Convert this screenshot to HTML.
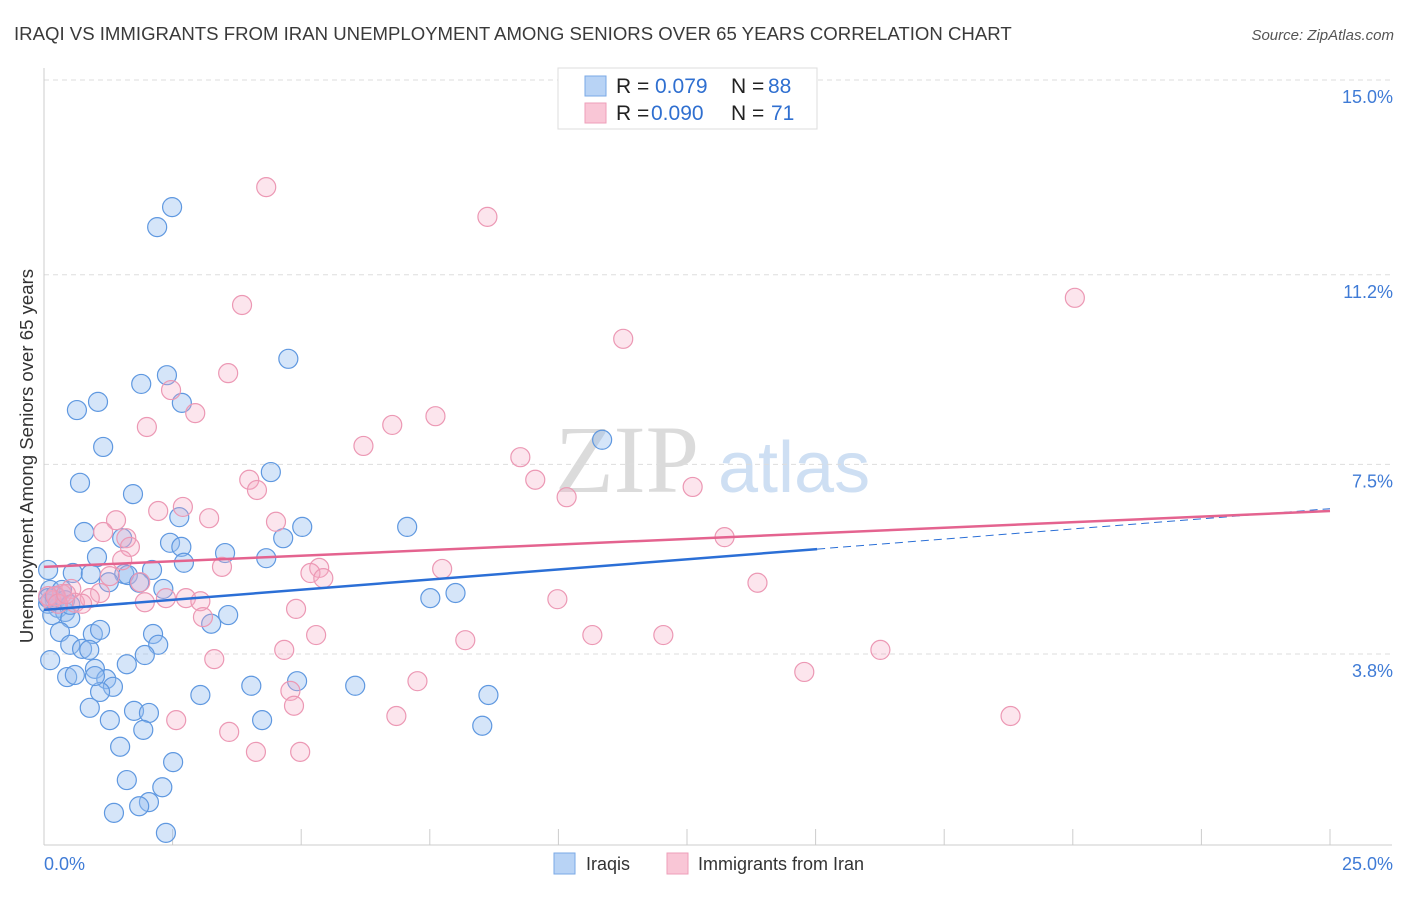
<!DOCTYPE html>
<html><head><meta charset="utf-8"><style>
body{margin:0;background:#fff;width:1406px;height:892px;overflow:hidden;font-family:"Liberation Sans",sans-serif}
</style></head><body>
<svg id="chart" width="1406" height="892" xmlns="http://www.w3.org/2000/svg" font-family="Liberation Sans, sans-serif">
<text x="14" y="40" font-size="18.6" fill="#3a3a3a">IRAQI VS IMMIGRANTS FROM IRAN UNEMPLOYMENT AMONG SENIORS OVER 65 YEARS CORRELATION CHART</text>
<text x="1394" y="40" font-size="15" fill="#555" text-anchor="end" font-style="italic">Source: ZipAtlas.com</text>
<text transform="translate(33,456) rotate(-90)" font-size="18.6" fill="#333" text-anchor="middle">Unemployment Among Seniors over 65 years</text>
<g opacity="0.9">
<text x="555" y="492" font-family="Liberation Serif, serif" font-size="96" fill="#d8d8d8">ZIP</text>
<text x="718" y="492" font-size="72" fill="#c9dcf2">atlas</text>
</g>
<g id="grid"></g><g id="axes"></g><g id="pts"></g><g id="lines"></g>
<g>
<rect x="558" y="68" width="259" height="61" fill="#fff" stroke="#ddd"/>
<rect x="585" y="76" width="21" height="20" fill="#b8d3f5" stroke="#7aa8e6"/>
<rect x="585" y="103" width="21" height="20" fill="#f9c6d6" stroke="#ee9fb9"/>
<text x="616" y="93" font-size="21" fill="#222">R =</text>
<text x="655" y="93" font-size="21" fill="#2f6fd0">0.079</text>
<text x="731" y="93" font-size="21" fill="#222">N =</text>
<text x="768" y="93" font-size="21" fill="#2f6fd0">88</text>
<text x="616" y="120" font-size="21" fill="#222">R =</text>
<text x="651" y="120" font-size="21" fill="#2f6fd0">0.090</text>
<text x="731" y="120" font-size="21" fill="#222">N =</text>
<text x="771" y="120" font-size="21" fill="#2f6fd0">71</text>
</g>
<g>
<rect x="554" y="853" width="21" height="21" fill="#b8d3f5" stroke="#7aa8e6"/>
<text x="586" y="870" font-size="18" fill="#333">Iraqis</text>
<rect x="667" y="853" width="21" height="21" fill="#f9c6d6" stroke="#ee9fb9"/>
<text x="698" y="870" font-size="18" fill="#333">Immigrants from Iran</text>
</g>
</svg>
<script>
const yTicks=[15.0,11.2,7.5,3.8];
const yTickLabels=["15.0%","11.2%","7.5%","3.8%"];
const xTickLabels=["0.0%","25.0%"];
const blueX=[2.49,2.20,4.75,1.89,2.39,2.68,1.05,0.64,1.15,10.85,0.70,4.41,1.73,7.06,5.02,0.78,2.63,1.52,4.65,2.45,2.67,1.03,3.52,4.32,2.72,0.08,0.56,0.91,1.56,1.63,2.10,1.26,1.85,2.32,8.00,7.51,0.12,0.21,0.27,0.08,0.41,0.16,0.51,3.58,3.25,0.31,0.95,1.09,2.12,2.22,0.51,0.74,0.88,1.96,1.61,0.99,0.45,0.60,1.21,1.34,3.04,4.03,4.92,6.05,8.64,1.09,0.89,1.75,2.04,1.28,1.93,4.24,8.52,1.48,2.51,1.61,2.30,2.04,1.85,1.36,2.37,0.99,0.12,0.35,0.08,0.21,0.41,0.51];
const blueY=[12.52,12.13,9.56,9.07,9.24,8.70,8.72,8.56,7.84,7.98,7.14,7.35,6.92,6.28,6.28,6.18,6.47,6.06,6.06,5.97,5.89,5.69,5.77,5.67,5.58,5.44,5.38,5.36,5.36,5.34,5.44,5.20,5.19,5.07,4.99,4.89,5.05,4.85,4.70,4.78,4.62,4.56,4.50,4.56,4.39,4.23,4.19,4.27,4.19,3.98,3.98,3.90,3.88,3.78,3.60,3.51,3.35,3.39,3.31,3.16,3.00,3.18,3.27,3.18,3.00,3.06,2.75,2.69,2.65,2.51,2.32,2.51,2.40,1.99,1.69,1.34,1.20,0.91,0.83,0.70,0.31,3.37,3.68,5.05,4.89,4.93,4.85,4.76];
const pinkX=[4.32,8.62,20.04,3.85,11.26,3.58,2.47,2.94,7.61,6.77,2.00,6.21,9.26,3.99,9.55,4.14,12.61,10.16,2.70,2.22,3.21,1.40,4.51,1.15,13.23,1.60,1.67,1.52,3.46,5.35,5.18,5.43,7.74,1.28,1.87,13.87,0.53,1.09,0.35,0.89,2.76,2.37,3.04,9.98,1.96,0.14,0.60,0.23,4.90,3.09,5.29,8.19,10.66,12.04,4.67,16.26,3.31,14.78,7.26,4.79,4.86,6.85,18.79,2.57,3.60,4.12,4.98,0.08,0.27,0.43,0.74];
const pinkY=[12.91,12.33,10.75,10.61,9.95,9.28,8.95,8.50,8.44,8.27,8.23,7.86,7.64,7.20,7.20,7.00,7.06,6.86,6.67,6.59,6.45,6.41,6.38,6.18,6.08,6.06,5.89,5.63,5.50,5.48,5.38,5.28,5.46,5.32,5.20,5.19,5.07,4.99,4.97,4.89,4.89,4.89,4.83,4.87,4.81,4.85,4.80,4.93,4.68,4.52,4.17,4.07,4.17,4.17,3.88,3.88,3.70,3.45,3.27,3.08,2.79,2.59,2.59,2.51,2.28,1.89,1.89,4.93,4.78,4.97,4.78];
const blueTrend=[4.66,0.079];
const pinkTrend=[5.50,0.0436];
const NS="http://www.w3.org/2000/svg";
const X0=44,X1=1330,Y15=80,PPY=51.25;
function sx(v){return X0+(X1-X0)*v/25;}
function sy(v){return Y15+(15-v)*PPY;}
function mk(tag,attrs,parent){const e=document.createElementNS(NS,tag);for(const k in attrs)e.setAttribute(k,attrs[k]);parent.appendChild(e);return e;}
const grid=document.getElementById('grid'),axes=document.getElementById('axes'),pts=document.getElementById('pts'),lines=document.getElementById('lines');
yTicks.forEach((t,i)=>{
 const l=mk('line',{x1:X0,x2:1392,y1:sy(t),y2:sy(t),stroke:'#ddd','stroke-dasharray':'5,4'},grid);
 
 
 const tx=mk('text',{x:1393,y:sy(t)+23,'font-size':18,fill:'#3f7bd6','text-anchor':'end'},grid);
 tx.textContent=yTickLabels[i];
 
 
});
const ax=mk('line',{x1:X0,x2:X0,y1:68,y2:845,stroke:'#ccc'},axes);


const bx=mk('line',{x1:X0,x2:1392,y1:845,y2:845,stroke:'#ccc'},axes);


for(let i=1;i<=10;i++){
 const t=mk('line',{x1:sx(i*2.5),x2:sx(i*2.5),y1:829,y2:845,stroke:'#ccc'},axes);
 
 
}
[[0,'start',44],[25,'end',1393]].forEach((d,i)=>{
 const t=mk('text',{x:d[2],y:870,'font-size':18,fill:'#3f7bd6','text-anchor':d[1]},axes);
 t.textContent=xTickLabels[i];
 
 
});
function drawPts(xs,ys,fill,stroke,name){
 xs.forEach((x,i)=>{
  const c=mk('circle',{cx:sx(x),cy:sy(ys[i]),r:9.5,fill:fill,stroke:stroke,'stroke-width':1.2},pts);
  
  
 });
}
drawPts(blueX,blueY,'rgba(150,190,240,0.4)','#5f98e0','iraqis-point');
drawPts(pinkX,pinkY,'rgba(245,170,196,0.3)','#ec98b4','iran-point');
const bEnd=15.03;
const bl=mk('line',{x1:sx(0),y1:sy(blueTrend[0]),x2:sx(bEnd),y2:sy(blueTrend[0]+blueTrend[1]*bEnd),stroke:'#2b6fd6','stroke-width':2.5},lines);


const bd=mk('line',{x1:sx(bEnd),y1:sy(blueTrend[0]+blueTrend[1]*bEnd),x2:sx(25),y2:sy(blueTrend[0]+blueTrend[1]*25),stroke:'#2b6fd6','stroke-width':1,'stroke-dasharray':'8,5'},lines);


const pl=mk('line',{x1:sx(0),y1:sy(pinkTrend[0]),x2:sx(25),y2:sy(pinkTrend[0]+pinkTrend[1]*25),stroke:'#e4638f','stroke-width':2.5},lines);


</script>
</body></html>
